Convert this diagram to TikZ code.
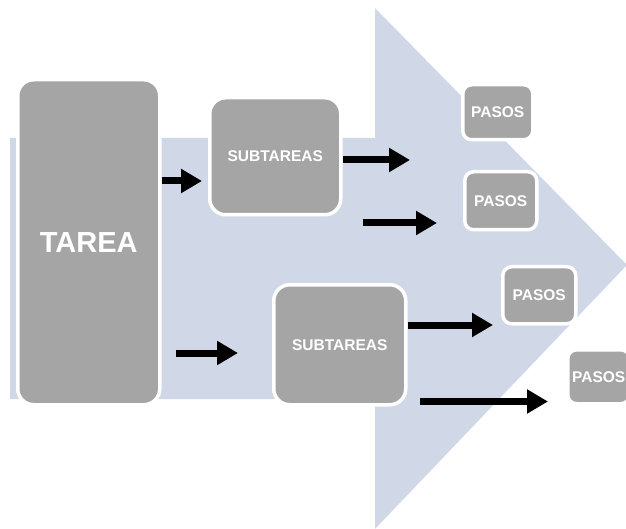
\documentclass[tikz,border=0pt]{standalone}
\usepackage{fontspec}
\setmainfont{Liberation Sans}
\usetikzlibrary{arrows.meta}
\definecolor{bgblue}{HTML}{D0D8E8}
\definecolor{boxgray}{HTML}{A5A5A5}
\begin{document}
\begin{tikzpicture}[x=1pt,y=-1pt,
  box/.style={fill=boxgray, draw=white, line width=3.5pt, rounded corners=16pt,
    text=white, inner sep=0pt, anchor=north west, align=center},
  bigtext/.style={font=\bfseries\fontsize{29}{29}\selectfont},
  smalltext/.style={font=\bfseries\fontsize{15.5}{15.5}\selectfont},
  smallbox/.style={box, rounded corners=9pt, smalltext},
  flow/.style={line width=7pt, black, -{Triangle[length=21pt,width=23pt]}}]
\useasboundingbox (0,0) rectangle (626,529);
\begin{scope}
\clip (0,0) rectangle (626,529);
% background arrow
\fill[bgblue] (10,138) -- (375,138) -- (375,8) -- (627,265) -- (375,529)
  -- (375,399) -- (10,399) -- cycle;
% boxes
\node[box, bigtext, minimum width=142pt, minimum height=325pt] (tarea) at (16,78) {TAREA};
\node[box, smalltext, minimum width=131pt, minimum height=117pt] (sub1) at (208,96) {SUBTAREAS};
\node[box, smalltext, minimum width=132pt, minimum height=120pt] (sub2) at (272,283) {SUBTAREAS};
\node[smallbox, minimum width=70pt, minimum height=55pt] (p1) at (461,83) {PASOS};
\node[smallbox, minimum width=72pt, minimum height=58pt] (p2) at (463,170) {PASOS};
\node[smallbox, minimum width=73pt, minimum height=57pt] (p3) at (501,265) {PASOS};
\node[smallbox, minimum width=62pt, minimum height=54pt] (p4) at (566,348) {PASOS};
% free ends
\coordinate (a1e) at (202,181);
\coordinate (a2e) at (410,160);
\coordinate (a3s) at (363,223);
\coordinate (a3e) at (437,223);
\coordinate (a4s) at (176,353);
\coordinate (a4e) at (238,353);
\coordinate (a5e) at (493,325);
\coordinate (a6s) at (420,401.5);
\coordinate (a6e) at (548,401.5);
% connectors
\draw[flow] (tarea.east |- a1e) -- (a1e);
\draw[flow] (sub1.east |- a2e) -- (a2e);
\draw[flow] (a3s) -- (a3e);
\draw[flow] (a4s) -- (a4e);
\draw[flow] (sub2.east |- a5e) -- (a5e);
\draw[flow] (a6s) -- (a6e);
\end{scope}
\end{tikzpicture}
\end{document}
